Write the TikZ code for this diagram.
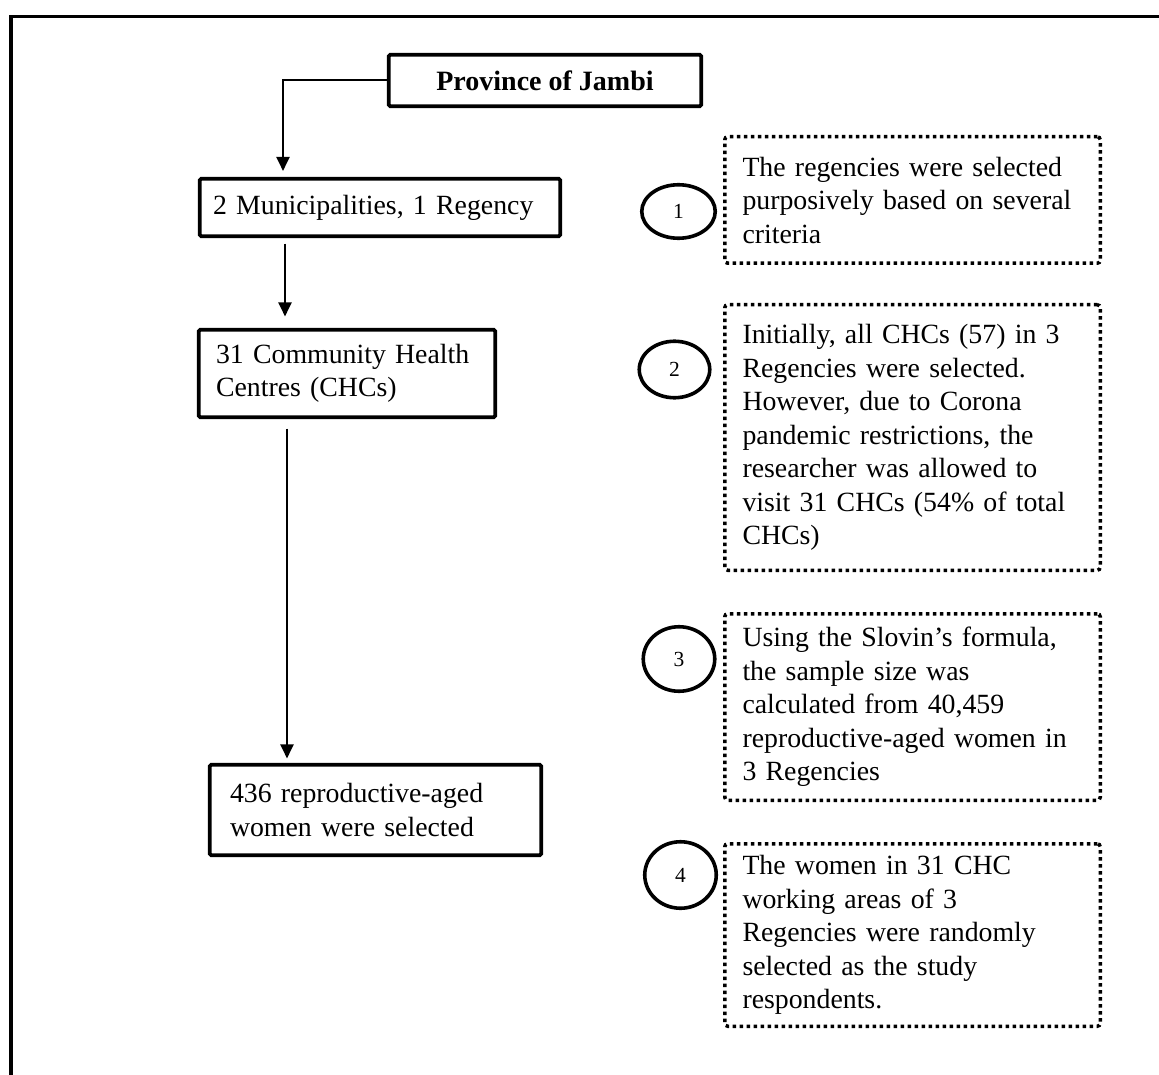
\documentclass[tikz,border=0pt]{standalone}
\usepackage{fontspec}
\setmainfont{Liberation Serif}
\usetikzlibrary{arrows.meta,shapes.geometric}
\hyphenpenalty=10000
\exhyphenpenalty=10000
\begin{document}
\begin{tikzpicture}[x=1pt,y=-1pt,
  bodyfont/.style={font=\fontsize{27.8}{33.5}\selectfont},
  solidbox/.style={draw, line width=3.6pt, rounded corners=1.5pt, inner sep=0pt, align=left, bodyfont},
  dotbox/.style={draw, line width=3.5pt, dash pattern=on 3.5pt off 3.5pt, rounded corners=3pt, inner sep=0pt, align=left, minimum width=375.5pt, text width=340pt, bodyfont},
  numcirc/.style={draw, ellipse, line width=3.6pt, inner sep=0pt, font=\fontsize{21.5}{26}\selectfont},
  arr/.style={line width=2pt, -{Triangle[length=14pt,width=13pt]}},
  frame/.style={line width=3.2pt}
]
\useasboundingbox (0,0) rectangle (1159,1075);

% outer frame (top and left edges)
\draw[frame] (11,1075) -- (11,16.5) -- (1159,16.5);

% main flow boxes
\node[solidbox, minimum width=312.5pt, minimum height=51.5pt, align=center,
      font=\fontsize{28}{33.5}\selectfont\bfseries] (prov) at (545,80.5) {Province of Jambi};
\node[solidbox, minimum width=360.5pt, minimum height=57.5pt, text width=334pt] (mun) at (380,207.5) {2 Municipalities, 1 Regency};
\node[solidbox, minimum width=296.5pt, minimum height=87.5pt, text width=262pt] (chc) at (347,373.5) {31 Community Health\\Centres (CHCs)};
\node[solidbox, minimum width=331.5pt, minimum height=90.5pt, text width=291pt] (wom) at (375.5,810) {436 reproductive-aged\\women were selected};

% connectors
\coordinate (k1) at (283,0);
\coordinate (k2) at (285,0);
\coordinate (k3) at (287,0);
\draw[arr, shorten >=6pt] (prov.west) -| (k1 |- mun.north);
\draw[arr, shorten <=5.5pt, shorten >=11.5pt] (k2 |- mun.south) -- (k2 |- chc.north);
\draw[arr, shorten <=9.5pt, shorten >=4.5pt] (k3 |- chc.south) -- (k3 |- wom.north);

% numbered circles
\node[numcirc, minimum width=73.5pt, minimum height=53.5pt] (n1) at (678.5,211.5) {1};
\node[numcirc, minimum width=70.5pt, minimum height=56.5pt] (n2) at (674.5,369.5) {2};
\node[numcirc, minimum width=71.5pt, minimum height=64.5pt] (n3) at (679,659) {3};
\node[numcirc, minimum width=71.5pt, minimum height=66.5pt] (n4) at (680.5,875) {4};

% dotted explanation boxes
\node[dotbox, minimum height=126.5pt] (d1) at (912.5,200) {The regencies were selected\\purposively based on several\\criteria};
\node[dotbox, minimum height=265.5pt] (d2) at (912.5,437.5) {Initially, all CHCs (57) in 3\\Regencies were selected.\\However, due to Corona\\pandemic restrictions, the\\researcher was allowed to\\visit 31 CHCs (54\% of total\\CHCs)};
\node[dotbox, minimum height=186.5pt] (d3) at (912.5,707) {Using the Slovin’s formula,\\the sample size was\\calculated from 40,459\\reproductive-aged women in\\3 Regencies};
\node[dotbox, minimum height=182.5pt] (d4) at (912.5,935) {The women in 31 CHC\\working areas of 3\\Regencies were randomly\\selected as the study\\respondents.};
\end{tikzpicture}
\end{document}
